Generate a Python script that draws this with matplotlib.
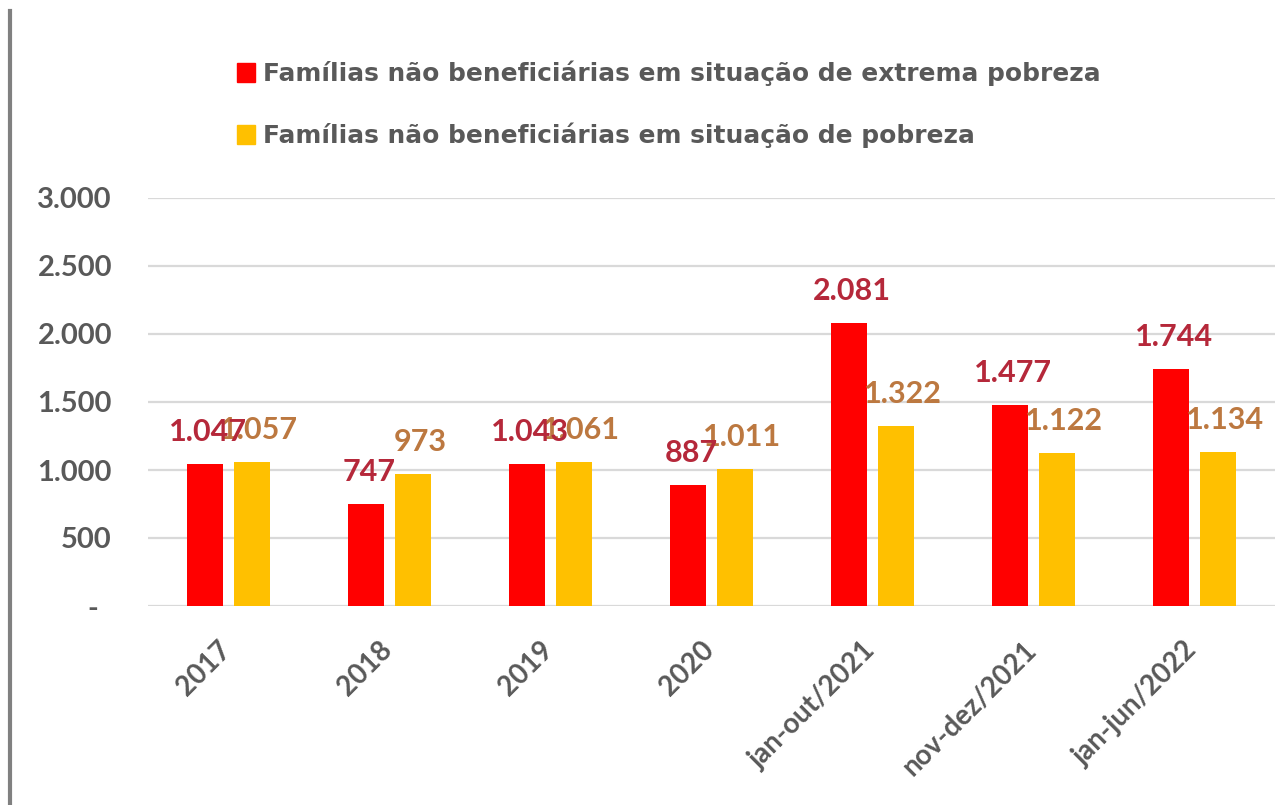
import matplotlib
matplotlib.use("Agg")
import matplotlib.pyplot as plt
import numpy as np
from matplotlib.lines import Line2D
from matplotlib.patches import Patch
from matplotlib.transforms import ScaledTranslation

plt.rcParams['font.family'] = ['Lato', 'DejaVu Sans']

# data
periods = ["2017", "2018", "2019", "2020", "jan-out/2021", "nov-dez/2021", "jan-jun/2022"]
extrema_pobreza = [1047, 747, 1043, 887, 2081, 1477, 1744]
pobreza = [1057, 973, 1061, 1011, 1322, 1122, 1134]
serie_nomes = ["Famílias não beneficiárias em situação de extrema pobreza",
               "Famílias não beneficiárias em situação de pobreza"]
y_ticks = [0, 500, 1000, 1500, 2000, 2500, 3000]

cor_vermelho = "#FF0000"
cor_amarelo = "#FFC000"
cor_texto = "#595959"

W, H = 1284, 805
fig = plt.figure(figsize=(W / 100, H / 100), dpi=100)
ax = fig.add_axes([148 / W, 1 - 606 / H, 1127 / W, 408 / H])

x = np.arange(len(periods))
largura = 0.22
desloc = 0.145
ax.bar(x - desloc, extrema_pobreza, largura, color=cor_vermelho, zorder=3)
ax.bar(x + desloc, pobreza, largura, color=cor_amarelo, zorder=3)

ax.set_xlim(-0.5, len(periods) - 0.5)
ax.set_ylim(0, 3000)

# grid
ax.set_yticks(y_ticks)
ax.yaxis.grid(True, color="#D9D9D9", lw=1.6, zorder=0)
ax.set_axisbelow(True)
for s in ax.spines.values():
    s.set_visible(False)
ax.tick_params(axis="both", length=0)

ax.set_yticklabels(["-" if v == 0 else f"{v:,}".replace(",", ".") for v in y_ticks],
                   fontsize=21, fontweight="bold", color=cor_texto)
ax.tick_params(axis="y", pad=26)
lbl0 = ax.get_yticklabels()[0]
lbl0.set_transform(lbl0.get_transform() + ScaledTranslation(-14 / 100, 0, fig.dpi_scale_trans))

ax.set_xticks(x)
ax.set_xticklabels(periods, rotation=45, ha="right", va="top",
                   fontsize=20, fontweight="bold", color=cor_texto)
ax.tick_params(axis="x", pad=22)
for lbl in ax.get_xticklabels():
    lbl.set_transform(lbl.get_transform() + ScaledTranslation(8 / 100, 0, fig.dpi_scale_trans))

# rotulos de dados
fmt = lambda v: f"{v:,}".replace(",", ".")
for xi, v in zip(x, extrema_pobreza):
    ax.annotate(fmt(v), (xi - desloc, v), xytext=(2, 23), textcoords="offset points",
                ha="center", va="center", fontsize=22, fontweight="bold",
                color="#B5283A", zorder=5, annotation_clip=False)
for xi, v in zip(x, pobreza):
    ax.annotate(fmt(v), (xi + desloc, v), xytext=(5, 23), textcoords="offset points",
                ha="center", va="center", fontsize=22, fontweight="bold",
                color="#BC7840", zorder=4, annotation_clip=False)

# legenda
handles = [Patch(color=cor_vermelho), Patch(color=cor_amarelo)]
leg = fig.legend(handles, serie_nomes, loc="upper left", bbox_to_anchor=(237 / W, 1 - 61 / H),
                 frameon=False, borderpad=0, borderaxespad=0, handlelength=0.72,
                 handleheight=0.8, handletextpad=0.32, labelspacing=1.45,
                 prop={"family": "DejaVu Sans", "size": 17.9, "weight": "bold"})
for t in leg.get_texts():
    t.set_color(cor_texto)

# borda esquerda
fig.add_artist(Line2D([9.5 / W, 9.5 / W], [1 - 11 / H, 0], color="#808080", lw=3,
                      transform=fig.transFigure))

fig.savefig("out.png", dpi=100)
